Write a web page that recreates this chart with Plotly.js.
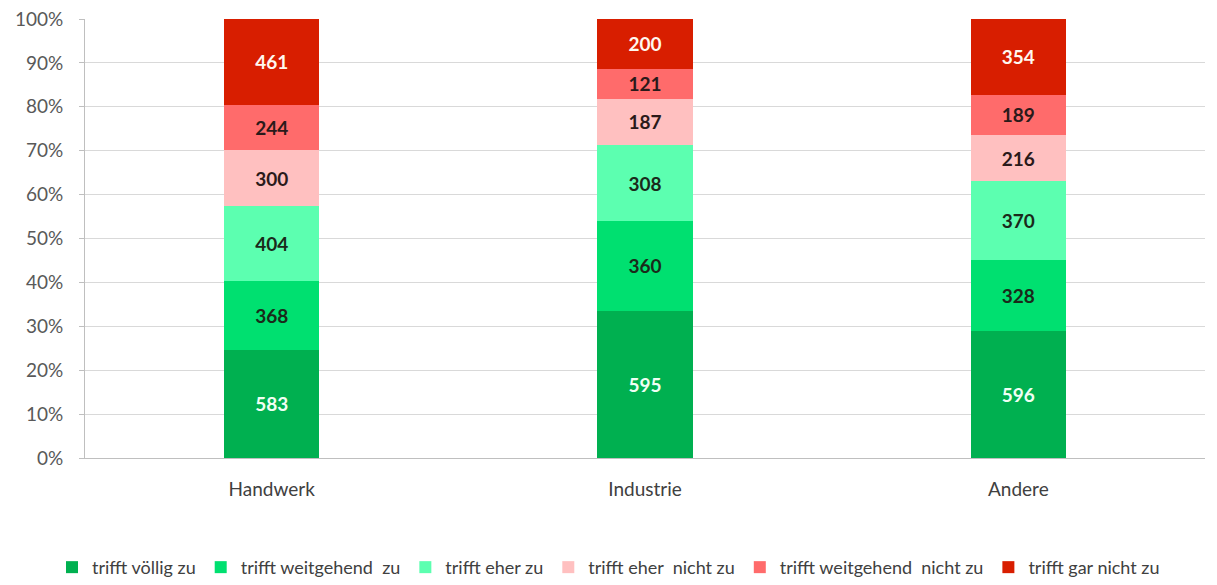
<!DOCTYPE html>
<html>
<head>
<meta charset="utf-8">
<script src="https://cdn.plot.ly/plotly-3.0.1.min.js"></script>
<style>html,body{margin:0;padding:0;background:#fff;}#chart{width:1217px;height:585px;}</style>
</head>
<body>
<div id="chart"></div>
<script>
const categories = ["Handwerk", "Industrie", "Andere"];
const seriesNames = ["trifft völlig zu", "trifft weitgehend  zu", "trifft eher zu", "trifft eher  nicht zu", "trifft weitgehend  nicht zu", "trifft gar nicht zu"];
const voelligZu = [583, 595, 596];
const weitgehendZu = [368, 360, 328];
const eherZu = [404, 308, 370];
const eherNichtZu = [300, 187, 216];
const weitgehendNichtZu = [244, 121, 189];
const garNichtZu = [461, 200, 354];
const yTickVals = [0, 10, 20, 30, 40, 50, 60, 70, 80, 90, 100];
const yTickLabels = ["0%", "10%", "20%", "30%", "40%", "50%", "60%", "70%", "80%", "90%", "100%"];

const seriesValues = [voelligZu, weitgehendZu, eherZu, eherNichtZu, weitgehendNichtZu, garNichtZu];
const colors = ["#00B050", "#00E070", "#5CFFB0", "#FFC0C0", "#FF6B6B", "#D81E00"];
const textColors = ["#f0fff4", "#1a2a1a", "#1a2a1a", "#2a1a1a", "#2a1a1a", "#fff8f0"];

const font = "Lato, 'Open Sans', sans-serif";

const traces = seriesValues.map((vals, i) => ({
  type: "bar",
  name: seriesNames[i],
  x: categories,
  y: vals,
  text: vals.map(String),
  texttemplate: "%{text}",
  textposition: "inside",
  insidetextanchor: "middle",
  textangle: 0,
  constraintext: "none",
  textfont: {family: font, size: 19, color: textColors[i], weight: "bold"},
  marker: {color: colors[i], line: {width: 0}},
  hoverinfo: "name+y"
}));

const layout = {
  width: 1217,
  height: 585,
  margin: {l: 85, r: 12, t: 19, b: 127},
  paper_bgcolor: "#ffffff",
  plot_bgcolor: "#ffffff",
  barmode: "stack",
  barnorm: "percent",
  bargap: 0.745,
  font: {family: font, size: 19, color: "#595959"},
  xaxis: {
    type: "category",
    showline: true,
    linecolor: "#bfbfbf",
    linewidth: 1,
    ticks: "",
    ticklabelstandoff: 14,
    tickfont: {family: font, size: 19, color: "#404040"},
    showgrid: false
  },
  yaxis: {
    range: [0, 100],
    tickvals: yTickVals,
    ticktext: yTickLabels,
    showgrid: true,
    gridcolor: "#d9d9d9",
    gridwidth: 1,
    showline: true,
    linecolor: "#bfbfbf",
    ticks: "outside",
    ticklen: 5,
    tickcolor: "#bfbfbf",
    ticklabelstandoff: 12,
    tickfont: {family: font, size: 19, color: "#595959"},
    zeroline: false,
    fixedrange: true
  },
  showlegend: true,
  legend: {
    orientation: "h",
    xref: "container",
    x: 0.5,
    xanchor: "center",
    yref: "container",
    y: 0.03,
    yanchor: "middle",
    font: {family: font, size: 18, color: "#404040"},
    traceorder: "normal",
    itemwidth: 30
  }
};

Plotly.newPlot("chart", traces, layout, {displayModeBar: false, staticPlot: true});
</script>
</body>
</html>
